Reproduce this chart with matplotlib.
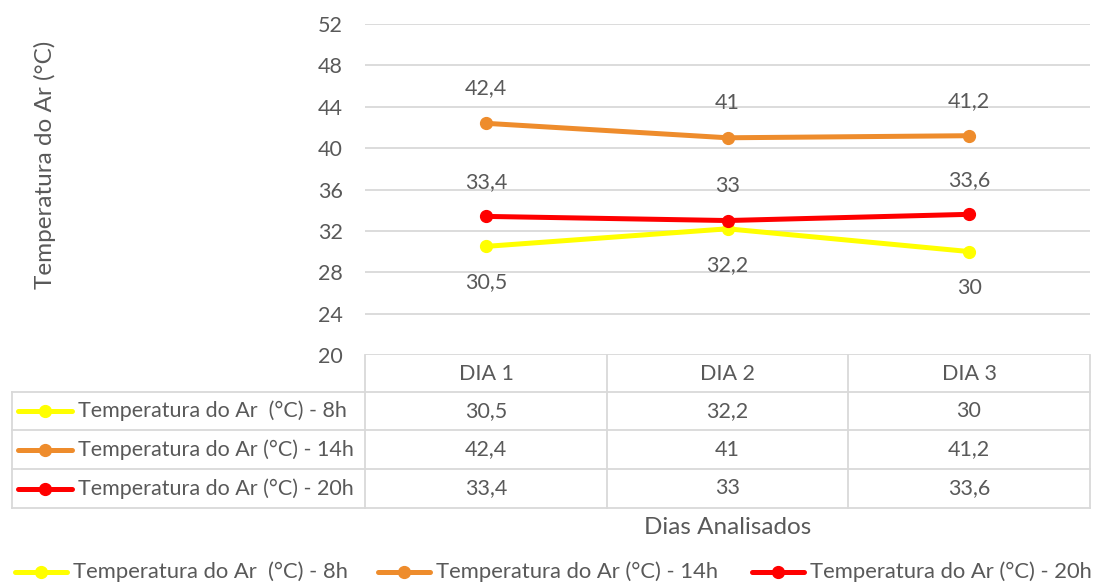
import matplotlib.pyplot as plt
from matplotlib.lines import Line2D

plt.rcParams['font.family'] = ['Lato', 'DejaVu Sans']

dias = ['DIA 1', 'DIA 2', 'DIA 3']
series_names = ['Temperatura do Ar  (°C) - 8h',
                'Temperatura do Ar (°C) - 14h',
                'Temperatura do Ar (°C) - 20h']
t_8h = [30.5, 32.2, 30]
t_14h = [42.4, 41, 41.2]
t_20h = [33.4, 33, 33.6]
colors = ['#FFFF00', '#EE8C2C', '#FF0000']
label_offsets = [-26, 25, 25]  # points: yellow below, others above
yticks = [20, 24, 28, 32, 36, 40, 44, 48, 52]

W, H = 1095, 583
txt = '#595959'
grid = '#D9D9D9'
fs = 15.5
fs_title = 17.5


def fx(px):
    return px / W


def fy(py):
    return 1 - py / H


def fmt(v):
    return ('%g' % v).replace('.', ',')


fig = plt.figure(figsize=(W / 100, H / 100), dpi=100)
x0, x1, ytop, ybot = 365, 1090, 24, 355
ax = fig.add_axes([fx(x0), fy(ybot), fx(x1 - x0), (ybot - ytop) / H])
ax.set_xlim(-0.5, 2.5)
ax.set_ylim(20, 52)
ax.set_yticks(yticks)
ax.set_yticklabels([str(t) for t in yticks], color=txt, fontsize=fs)
ax.tick_params(axis='y', length=0, pad=16)
ax.set_xticks([])
for s in ax.spines.values():
    s.set_visible(False)
ax.grid(axis='y', color=grid, linewidth=1.3)
ax.set_axisbelow(True)

xs = range(len(dias))
all_series = [t_8h, t_14h, t_20h]
for vals, c, off in zip(all_series, colors, label_offsets):
    ax.plot(xs, vals, color=c, linewidth=3.6, marker='o', markersize=8.5,
            solid_capstyle='round')
    for x, v in zip(xs, vals):
        ax.annotate(fmt(v), (x, v), xytext=(0, off), textcoords='offset points',
                    ha='center', va='center', color=txt, fontsize=fs)

# data table
col_edges = [12, 365, 607, 848, 1090]
row_edges = [355, 392, 430, 469, 508]
lw = 1.3
fig.add_artist(Line2D([fx(365), fx(365)], [fy(355), fy(508)], color=grid, lw=lw))
for xe in col_edges[2:]:
    fig.add_artist(Line2D([fx(xe), fx(xe)], [fy(355), fy(508)], color=grid, lw=lw))
fig.add_artist(Line2D([fx(12), fx(12)], [fy(392), fy(508)], color=grid, lw=lw))
for ye in row_edges[1:]:
    fig.add_artist(Line2D([fx(12), fx(1090)], [fy(ye), fy(ye)], color=grid, lw=lw))

for i, d in enumerate(dias):
    cx = (col_edges[i + 1] + col_edges[i + 2]) / 2
    fig.text(fx(cx), fy((row_edges[0] + row_edges[1]) / 2), d, ha='center',
             va='center', color=txt, fontsize=fs)

for r, (name, vals, c) in enumerate(zip(series_names, all_series, colors)):
    cy = (row_edges[r + 1] + row_edges[r + 2]) / 2
    fig.add_artist(Line2D([fx(18), fx(72)], [fy(cy), fy(cy)], color=c, lw=3.6,
                          solid_capstyle='round'))
    fig.add_artist(Line2D([fx(45)], [fy(cy)], color=c, marker='o', markersize=8.5))
    fig.text(fx(78), fy(cy), name, ha='left', va='center', color=txt, fontsize=fs)
    for i, v in enumerate(vals):
        cx = (col_edges[i + 1] + col_edges[i + 2]) / 2
        fig.text(fx(cx), fy(cy), fmt(v), ha='center', va='center', color=txt,
                 fontsize=fs)

fig.text(fx(45), fy(165), 'Temperatura do Ar (°C)', rotation=90, ha='center',
         va='center', color=txt, fontsize=fs_title)
fig.text(fx(728), fy(528), 'Dias Analisados', ha='center', va='center',
         color=txt, fontsize=fs_title)

# bottom legend
leg_x = [15, 378, 752]
for lx, name, c in zip(leg_x, series_names, colors):
    ly = 572
    fig.add_artist(Line2D([fx(lx), fx(lx + 52)], [fy(ly), fy(ly)], color=c, lw=3.6,
                          solid_capstyle='round'))
    fig.add_artist(Line2D([fx(lx + 26)], [fy(ly)], color=c, marker='o', markersize=8.5))
    fig.text(fx(lx + 58), fy(ly), name, ha='left', va='center', color=txt,
             fontsize=15.8)

fig.savefig('out.png', dpi=100)
